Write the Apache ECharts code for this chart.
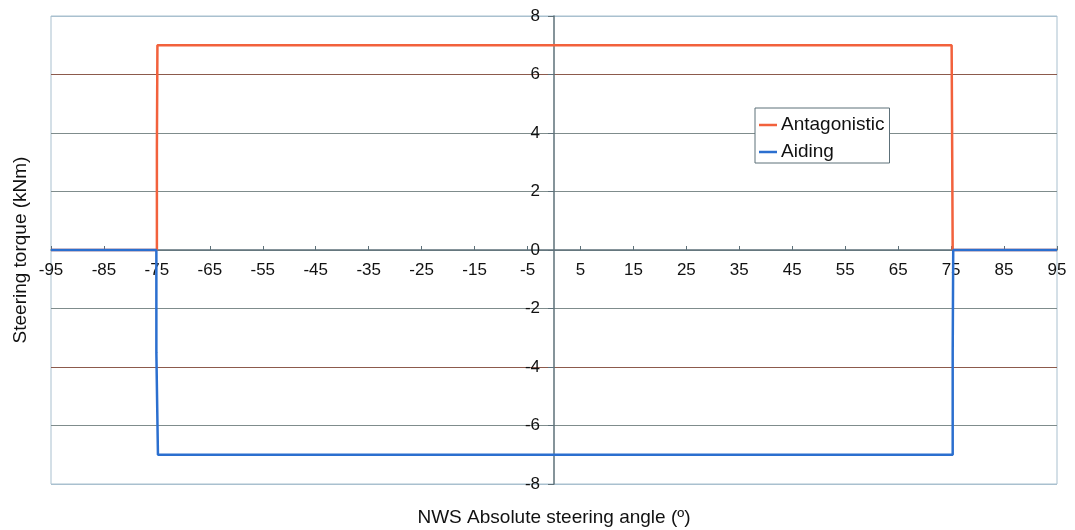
<!DOCTYPE html>
<html>
<head>
<meta charset="utf-8">
<script src="https://cdn.jsdelivr.net/npm/echarts@6/dist/echarts.min.js"></script>
<style>html,body{margin:0;padding:0;background:#fff;}#c{width:1075px;height:530px;}</style>
</head>
<body>
<div id="c"></div>
<script>
// Data
const xTickLabels = [-95,-85,-75,-65,-55,-45,-35,-25,-15,-5,5,15,25,35,45,55,65,75,85,95];
const yTicks = [-8,-6,-4,-2,0,2,4,6,8];
const antagonisticX = [-95,-75,-75,-74.9,75.1,75.2,75.3,95];
const antagonisticY = [0,0,3.5,7,7,3.5,0,0];
const aidingX = [-95,-75.1,-75.1,-74.8,75.3,75.3,75.4,95];
const aidingY = [0,0,-3.5,-7,-7,-3.5,0,0];

const zip = (xs, ys) => xs.map((x, i) => [x, ys[i]]);
const font = '"Liberation Sans", Arial, sans-serif';
const axisCol = '#5d7079';

const chart = echarts.init(document.getElementById('c'), null, {renderer: 'canvas'});
chart.setOption({
  backgroundColor: '#ffffff',
  animation: false,
  grid: {left: 51, right: 18, top: 16, bottom: 46, containLabel: false, outerBoundsMode: 'none',
         show: true, borderColor: '#a9c0cf', borderWidth: 1, backgroundColor: 'transparent'},
  legend: {
    left: 755, top: 108, orient: 'vertical',
    backgroundColor: '#ffffff', borderColor: '#5d7079', borderWidth: 1,
    padding: [6, 5, 0, 4], itemGap: 5,
    itemWidth: 18, itemHeight: 2.5, icon: 'rect',
    textStyle: {fontFamily: font, fontSize: 19, lineHeight: 22, color: '#111', padding: [0,0,0,-1]},
    data: ['Antagonistic', 'Aiding']
  },
  xAxis: {
    type: 'value', min: -95, max: 95, position: 'bottom', offset: -234,
    name: 'NWS Absolute steering angle (º)', nameLocation: 'middle', nameGap: 258,
    nameTextStyle: {fontFamily: font, fontSize: 19, color: '#111'},
    axisLine: {onZero: false, lineStyle: {color: axisCol, width: 1.5}},
    axisTick: {show: true, inside: true, length: 4, customValues: xTickLabels, lineStyle: {color: axisCol}},
    axisLabel: {customValues: xTickLabels, fontFamily: font, fontSize: 17, color: '#111', margin: 12, showMinLabel: true, showMaxLabel: true, hideOverlap: false},
    splitLine: {show: false}
  },
  yAxis: {
    type: 'value', min: -8, max: 8, interval: 2, position: 'left', offset: -503,
    name: 'Steering torque (kNm)', nameLocation: 'middle', nameGap: 524, nameRotate: 90,
    nameTextStyle: {fontFamily: font, fontSize: 19, color: '#111'},
    axisLine: {show: true, onZero: false, lineStyle: {color: axisCol, width: 1.5}},
    axisTick: {show: true, inside: false, length: 6, lineStyle: {color: axisCol}},
    axisLabel: {fontFamily: font, fontSize: 17, color: '#111', margin: 14, formatter: v => String(v)},
    splitLine: {show: true, lineStyle: {width: 1.2, color: ['#a9c0cf','#7f8c8c','#8c5a4c','#7f8c8c','#7f8c8c','#7f8c8c','#7f8c8c','#8c5a4c','#a9c0cf']}}
  },
  series: [
    {name: 'Antagonistic', type: 'line', data: zip(antagonisticX, antagonisticY), showSymbol: false, symbol: 'none',
     lineStyle: {color: '#f2613c', width: 2.5}, itemStyle: {color: '#f2613c'}, z: 3},
    {name: 'Aiding', type: 'line', data: zip(aidingX, aidingY), showSymbol: false, symbol: 'none',
     lineStyle: {color: '#2b6fcf', width: 2.5}, itemStyle: {color: '#2b6fcf'}, z: 4}
  ]
});
</script>
</body>
</html>
